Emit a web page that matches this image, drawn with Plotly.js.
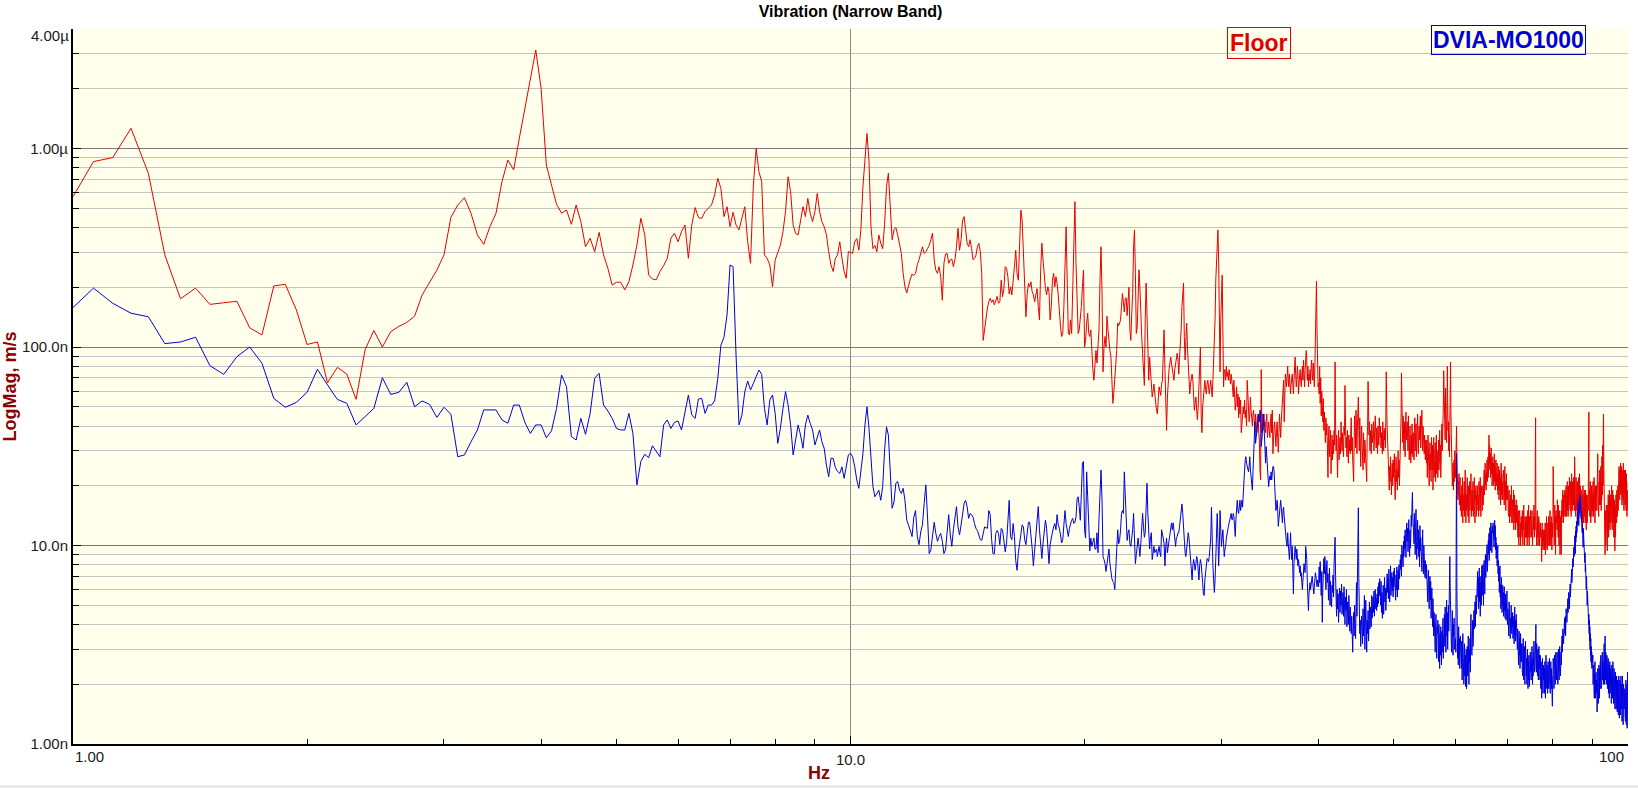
<!DOCTYPE html>
<html><head><meta charset="utf-8">
<script src="https://cdn.plot.ly/plotly-3.0.1.min.js"></script>
<style>html,body{margin:0;padding:0;background:#fff}#chart{width:1638px;height:788px}</style>
</head><body><div id="chart"></div>
<script>
// Narrow-band spectrum: 1600 lines over 100 Hz -> 0.0625 Hz resolution, shown 1..100 Hz
const freqStartHz = 1;
const freqStepHz = 0.0625;

// Floor vibration, nm/s (one row = 1 Hz = 16 lines)
const floorNm = [
572,859,900,1264,750,291,175,198,164,167,170,125,115,203,207,154,
103,106,66,79,73,54.5,97,121,100,119.5,127,133,143,183,213,244,
291,450,519,565,472,367,329,404,472,681,875,780,1125,1594,2213,3133,
2010,826,655,523,472,490,415,519,428,320,353,302,378,291,249,205,
212,212,194,213,259,326,445,367,231,220,218,240,257,280,353,374,
339,381,412,280,412,504,448,445,481,500,519,583,707,630,454,509,
404,477,412,389,445,509,339,264,655,1000,764,681,291,280,259,201,
274,302,326,381,481,721,606,412,374,367,445,509,454,561,472,428,
481,594,481,428,404,367,302,259,240,280,291,339,280,240,222,302,
300,296,340,352,307,390,643,870,1190,870,403,313,325,302,367,333,
313,414,643,750,470,347,390,400,367,333,296,235,201,187,205,220,
233,229,235,260,275,302,320,296,302,313,325,347,375,275,244,235,
254,226,172,264,294,296,264,275,277,254,275,320,396,307,347,436,
454,390,333,320,347,313,275,279,290,320,333,302,235,108,122,142,
157,169,176,168,173,163,173,180,166,169,217,179,197,254,249,226,
185,201,183,209,254,307,235,217,360,490,436,296,235,142,185,209,
201,213,190,183,169,187,197,160,137,244,333,275,217,197,183,201,
190,137,160,217,235,201,226,209,183,148,127,113,117,160,275,403,
212,117,115,137,117,201,436,540,264,160,117,122,137,160,201,244,
100,108,132,148,117,113,122,89,77,68,86,96,83,100,122,218,
320,186,75,100,113,100,143,122,104,96,89,68,52,59,70,86,
96,132,128,132,137,160,186,168,150,175,177,144,163,200,122,108,
148,186,320,389,235,117,125,160,245,200,137,113,93,68,64,137,
210,148,80,68,89,77,68,56,60,65,58,50,48,46,56,63,
60,57,65,68,92,122,77,50,38,56,68,77,83,89,83,77,
71,68,77,83,85,93,86,73,89,100,122,160,200,210,113,86,
108,132,100,86,68,58,65,68,73,68,54,48,52,56,48,43,
50,63,80,100,46,37,50,58,63,68,61,58,65,68,63,58,
63,68,61,56,68,86,100,137,218,264,345,389,275,122,75,137,
193,230,122,63,75,77,68,80,71,75,68,77,71,65,73,63,
63,56,68,58,48,53,63,50,58,44,56,46,54,37,42,48,
50,46,54,44,48,40,68,58,50,42,46,56,48,42,40,46,
48,42,37,46,40,37,44,46,37,34,24,21.4,77,37,46,38,
46,40,42,37,42,46,35,40,42,38,35,42,46,37,48,29,
37,40,42,35,31.5,37,42,35,29.5,37,46,40,35,42,50,54,
63,68,42,56,73,68,63,71,80,68,63,73,68,58,65,71,
73,65,58,68,80,89,73,63,68,80,73,58,65,71,77,68,
63,73,80,68,86,73,63,77,93,96,86,68,80,63,73,68,
77,65,80,86,73,68,83,68,63,80,100,148,214,122,75,63,
66,58,80,52,70,45,60,48,42,55,38,47,40,33,44,36,
41,30,22,35,40,28,33,38,23,30,36,27,34,29,38,32,
84,40,30,36,25,22,33,38,27,31,35,29,42,34,30,37,
33,28,40,36,64,42,31,35,28,38,33,26,36,30,34,29,
38,44,30,35,27,24,21,33,45,38,31,48,36,29,40,52,
56,38,30,44,27,25,35,40,32,28,24,37,30,26,34,28,
31,26,21,35,40,67,45,36,42,30,34,38,29,41,35,33,
36,42,30,38,33,45,37,31,39,34,29,40,36,32,44,38,
35,40,31,37,33,29,42,36,30,38,34,39,31,44,75,52,
40,33,27,30,22,19,25,21,28,24,18,23,26,20,27,22,
25,29,20,17,23,28,21,24,19,26,30,22,27,20,24,31,
36,44,74,52,40,33,45,38,30,42,36,28,40,47,34,38,
42,35,30,45,38,27,33,40,31,26,36,29,41,34,28,37,
32,27,38,44,30,35,41,28,33,38,46,32,29,36,40,34,
38,45,31,36,42,48,35,30,40,37,33,29,36,31,27,34,
30,26,34,22,28,36,25,31,20,27,33,24,29,21,35,28,
24,32,19,27,35,22,29,25,33,21,28,36,23,30,26,22,
27,34,24,30,38,26,32,22,29,36,41,30,35,44,50,76,
52,38,46,34,62,40,48,33,44,80,55,38,42,30,36,28,
40,58,84,46,33,28,24,20,22,26,19,23,27,21,30,25,
22,26,35,40,28,20,24,17,21,18,23,16,19,22,15,18,
17,14,20,16,22,13,18,15,19,21,14,17,24,16,13,18,
15,19,22,16,14,20,17,13,18,21,15,19,16,23,14,18,
19,15,17,21,14,18,16,22,15,13,19,17,20,14,18,16,
17,20,15,18,14,21,16,19,15,22,17,14,20,16,18,15,
18,20,16,22,19,24,18,21,26,20,23,19,25,22,27,21,
24,28,22,30,36,26,32,24,29,22,27,31,23,26,20,25,
28,22,26,20,24,29,21,25,19,23,27,20,24,22,26,19,
23,18,21,25,17,20,24,19,22,16,21,26,18,23,17,20,
21,17,24,19,22,16,20,25,18,21,15,19,23,17,20,18,
17,20,15,18,14,19,16,13,17,15,18,14,16,20,13,15,
14,17,13,16,19,12,15,18,14,13,16,12,15,17,13,14,
16,12,14,11,15,13,10,14,12,15,11,13,10,12,14,11,
13,11,15,12,10,14,12,16,11,13,10,12,14,11,13,12,
14,11,13,10,12,15,11,13,16,12,10,14,12,11,13,15,
12,14,11,13,15,12,10,13,11,14,12,16,13,11,14,12,
30,44,14,11,13,10,12,15,11,13,10,12,14,11,13,10,
12,10,13,11,9,12,10,8.3,11,13,10,12,9.5,11,10,12,
11,9.5,12,10,13,9,11,10,12,14,10,11,9.5,12,13,10,
12,14,11,13,10,12,15,11,13,10,12,14,11,9.5,12,13,
11,14,25,18,12,15,10,13,16,11,14,9,12,15,11,13,
14,12,17,13,15,11,16,13,10,14,12,15,9,13,11,14,
12,9,15,13,17,14,16,19,15,13,18,16,14,17,15,19,
16,14,18,15,20,17,14,19,16,21,15,18,14,17,20,16,
18,22,16,19,15,21,17,20,14,18,23,16,19,15,21,17,
19,16,22,17,20,15,28,18,21,16,19,14,22,17,20,15,
18,21,16,20,14,17,22,15,19,16,23,18,14,20,17,15,
16,19,13,17,15,18,12,16,20,14,17,13,18,15,19,14,
15,17,13,19,14,16,12,18,15,17,13,16,14,18,15,20,
30,47,18,15,19,14,17,21,16,13,18,15,20,16,14,17,
15,19,16,21,14,18,17,22,15,19,16,13,18,20,15,17,
19,16,20,15,18,22,17,29,21,16,19,14,18,21,16,24,
20,17,22,16,25,19,15,21,17,28,23,18,32,26,20,38,
46,30,22,17,14,11,16,9,13,15,10,14,12,16,13,11,
14,9.4,13,16,12,18,15,11,17,14,19,13,16,12,15,18,
16,13,18,15,20,14,17,12,16,19,13,15,18,14,11,16,
14,17,12,9.4,13,16,11,15,18,14,17,13,19,16,14,18,
17,20,15,19,22,16,25,18,21,17,24,19,22,26,18,21,
20,25,18,22,16,24,19,23,17,21,26,18,22,15,20,24,
19,22,16,21,24,17,20,15,23,18,21,14,19,16,17,15,
15
];

// DVIA-MO1000 vibration, nm/s (one row = 1 Hz = 16 lines)
const dviaNm = [
158,198,166,148,142,104,106,112,80.5,72.8,89.4,100,82.8,55.1,49.7,52.6,
59.1,77.2,64.4,54.5,52,40.5,44.6,49.1,70,57.7,59.1,66.4,50,53.5,51.4,44.2,
49.7,45.8,28.0,28.6,33.3,38.2,48.2,48.2,48.2,42.9,41.3,51.0,51.0,41.7,36.7,40.5,
40.5,34.9,37.8,49.1,72.3,63.1,35.4,34.0,43.7,36.3,46.3,69.6,73.7,51.0,47.6,43.7,
38.9,38.2,38.2,46.3,36.7,20.2,26.5,28.8,27.7,31.8,29.7,28.0,40.5,42.9,38.9,41.7,
42.4,38.2,46.9,57.3,45.4,43.7,54.7,55.1,46.3,51.0,51.0,53.5,69.6,102,112,145,
259,254,91.2,40.5,45.4,59.6,67.4,60.7,65.6,70.9,76.6,72.8,49.1,40.5,54.1,57.3,
46.3,32.7,38.9,49.1,59.6,51.0,40.5,28.6,33.3,40.5,36.0,30.9,40.5,45.4,41.3,38.2,
32.1,35.4,38.2,33.3,30.9,25.4,22.2,27.5,27.5,24.7,23.6,23.1,24.9,21.8,24.5,28.6,
29.1,28,25,21.4,19.4,23,29,40.5,50,39,26,19.8,17.6,18.3,19,16.9,
19.8,30.3,39.6,36,23,15.4,16.6,20.6,21,19,18.3,19.4,16.9,13.4,12.7,12,
11.1,13.9,15,11.1,10.1,11.7,12.7,16.3,20.2,13.9,9.1,9.5,11.1,13.1,11.5,10.5,
11.1,11.5,10.5,9.1,9.5,11.5,14.3,11.3,9.9,12,13.9,15.7,12.4,11.3,12.7,14.3,
16.3,16.9,15.7,13.7,14.5,14.3,13.9,12.9,12.2,11.9,11.2,10.7,10.6,11.5,12.4,12.3,
12.2,15,14.3,10.7,9.1,9.1,11.5,11.9,11.5,10.1,12.2,12,10.5,9.3,10.3,13.4,
16.9,11.1,10.7,12.9,11.1,8.4,7.5,9.1,10.3,11.7,12.7,12.4,10.7,10.1,12,13.1,
13.1,11.5,9.7,7.9,9.5,11.5,13.4,15.7,12,9.5,8.6,10.3,12.2,13.4,12.2,9.5,
8.1,10.1,11.1,11.7,12.4,12.9,12,14.3,12.7,12.2,11.3,10.3,10.7,13.4,15,12.9,
11.7,11.1,12.2,12.9,13.4,13.7,12.9,13.1,13.9,17.2,17.6,15.7,13.4,18.3,26,26.5,
12,10.9,23.5,17.6,11.1,9.4,10.9,9.9,10.4,10.9,9.6,9.6,11.6,9.2,13.7,21.4,
24,17,8.8,8.5,8.1,7.4,8.1,9,9.6,8.1,7.3,6.8,6.6,6.5,6,7.8,
9.9,12,10.2,10.6,12,14.5,15,14.5,23.5,16.9,12.5,10.6,11.6,12,10.2,9.9,
10.9,12,14.5,11.6,8.1,9,10.2,10.9,9.9,8.8,10.2,12,14.5,12.5,11,11.6,
17.6,20.6,14.5,10.9,9.6,10.9,11.6,8.5,9.6,9.9,9.2,9.4,9.6,8.8,9.2,9.9,
9.2,8.8,12,11.6,10.9,10.2,7.9,9.9,10.9,9.2,9.9,11.1,11.6,12.5,13,12,
13,12,10.9,9.9,10.9,11.1,11.6,11.6,12.5,13.5,15,16.2,14.5,11.6,9.9,9.2,
8.8,9.6,9.9,11.6,10.9,9.6,8.8,7.5,6.7,7.9,8.5,8.1,7.5,8.1,8.8,8.5,
7.2,6.7,7.9,8.5,8.1,6.7,6.5,5.7,5.6,6.7,7.5,8.1,8.6,8.5,8.3,8.8,
9.6,10.9,15.6,9.9,7.9,6.7,5.8,6.7,9.2,12,14.5,10.9,7.9,9.9,15,12,
9.9,10.9,12,10.2,8.8,9.6,9.9,10.9,11.6,12,12.5,13,13.5,14,14.5,13.5,
13.5,14.5,14,12.5,11.1,13.5,15.6,16.9,15,14.5,15.6,16.9,15,15.6,16.9,15.6,
19,21.4,24,27,28,26,25,24,23.5,25,28,24,21.4,19.8,19,23.5,
31.5,36.7,42,32.7,35.3,39.5,42,43.8,46,42,48,46,31.5,34,38,44,
46,37,28,26,31.5,27,25,23.5,19.8,21.4,22.4,21.4,23.5,21.4,24,25,
25,23.5,19.8,16.9,15,15.6,16.9,15,12.5,13.5,14.5,15,16.9,15.6,14,13,
15,15.6,14,12.5,12,11.1,10.2,9.9,11.6,10.2,9.2,8.5,9.9,11.6,9.6,8.5,
9.9,7.9,5.7,8.1,9.2,9.9,9.2,8.5,9.6,8.8,7.9,8.5,7.7,7.3,7.9,7.0,
7.3,6.5,6,6.7,7.9,8.1,7.5,7.3,9.9,9.2,8.5,6.5,5.5,4.7,5.7,6.2,
6.5,6,6.2,6.7,7,6.5,6,5.7,6.2,6.7,7.3,7,6.5,6.2,6.7,6.2,
6.2,7.8,6.5,8.3,7.0,5.6,7.4,4.1,6.1,7.9,8.6,7.2,8.8,7.6,6.0,7.5,
8.4,6.5,7.2,5.3,6.0,7.7,5.0,6.6,5.4,4.9,6.3,5.8,7.1,5.5,8.0,10.8,
11,7.0,5.2,4.4,6.0,4.8,5.7,4.1,5.3,6.1,4.6,5.9,5.0,6.4,4.5,5.6,
5.8,4.4,6.2,5.1,4.0,5.5,4.7,6.0,3.9,5.2,4.5,4.0,5.6,4.3,3.7,4.9,
4.2,3.6,4.4,3.3,2.9,3.8,4.6,3.5,5.0,4.1,3.4,5.3,6.5,4.4,8.8,15,
15.5,6.8,4.6,3.6,4.2,3.1,3.9,4.4,3.7,3.2,4.8,3.5,4.1,5.6,3.0,4.0,
5.3,3.4,2.9,4.2,3.6,4.7,3.3,4.0,5.2,3.8,4.5,4.9,3.9,5.6,4.3,4.8,
5.5,4.6,5.9,4.4,5.2,6.0,4.8,5.4,4.7,5.7,4.9,6.2,5.1,6.5,5.6,6.8,
6.0,5.0,6.6,4.6,5.8,4.3,5.3,6.3,4.5,5.5,6.9,5.2,6.1,4.7,5.4,6.6,
7.2,5.8,6.8,5.4,7.6,6.1,5.2,6.7,7.9,5.6,6.4,7.3,5.9,6.9,5.5,7.4,
6.2,7.7,5.7,6.8,5.3,7.1,6.0,7.8,5.5,6.5,7.5,6.0,8.0,6.8,7.3,8.5,
7.6,9.0,7.0,10.0,8.2,9.5,7.8,10.5,8.8,11.2,9.6,12,10.2,8.7,11.5,13,
10.5,12.2,9.3,11.0,13.5,10.0,8.8,12.0,9.7,11.3,14.2,12.5,16.0,18.5,14.0,11.5,
12.8,10.2,14.5,11.0,9.0,12.3,15.2,10.5,8.5,11.8,13.4,9.6,12.0,8.8,10.8,7.8,
12.6,9.4,11.0,8.3,10.3,7.4,9.8,12.0,8.6,7.2,10.0,8.0,9.1,6.9,8.4,7.6,
6.8,8.0,6.0,7.2,5.2,6.4,7.5,5.6,4.8,6.3,7.0,5.3,6.6,4.3,5.8,6.1,
4.8,3.9,5.4,4.4,3.5,4.6,3.2,4.1,2.9,3.8,4.5,3.3,2.7,3.9,3.6,4.2,
3.4,2.6,4.0,3.0,2.4,3.6,2.8,3.9,3.1,2.5,3.7,2.9,3.3,4.3,2.7,3.5,
3.6,4.5,3.1,4.9,3.8,2.9,4.2,5.3,3.5,4.6,3.0,4.0,5.0,3.7,4.4,6.0,
8.8,6.2,3.6,4.4,3.2,2.9,3.8,4.7,3.3,2.8,4.0,3.5,4.3,3.0,3.7,3.1,
3.4,2.9,12,29,6.0,3.6,2.7,3.2,2.5,3.9,2.8,3.4,2.4,3.0,3.5,2.6,
2.9,2.4,3.3,2.1,2.7,3.6,2.3,2.9,2.0,2.6,3.2,2.2,2.8,1.95,2.5,3.0,
1.9,2.5,3.1,2.2,2.8,3.5,2.4,2.0,3.0,2.6,3.4,2.3,3.8,4.5,2.9,3.5,
2.8,3.6,4.2,3.1,4.0,3.4,4.7,3.8,4.4,5.2,3.9,4.9,5.6,4.5,6.0,5.3,
6.6,7.4,5.5,6.9,4.8,6.2,7.7,5.2,6.5,4.4,5.8,7.0,5.0,6.3,7.9,5.6,
7.2,8.0,6.2,5.0,7.5,8.4,6.6,5.7,8.1,9.0,6.9,7.8,9.3,8.0,10.1,7.4,
9.8,8.0,10.6,9.0,11.5,8.4,10.2,12.3,9.4,11.0,13.0,10.0,11.8,9.2,12.5,10.8,
11.6,13.0,10.4,12.2,9.8,11.3,13.4,10.7,12.6,9.5,11.0,8.6,10.3,9.2,7.9,8.8,
10.0,7.2,8.4,6.6,7.7,5.8,6.8,7.9,5.5,6.4,4.8,5.9,6.9,5.2,4.6,5.6,
6.3,5.0,5.8,4.4,5.4,6.2,4.7,5.1,4.3,5.7,4.9,4.2,5.3,4.6,5.9,4.4,
4.0,4.8,3.7,4.5,3.5,5.2,4.1,3.8,4.6,3.4,4.3,3.9,5.0,4.2,3.6,4.4,
3.9,4.6,3.4,4.1,3.7,4.4,3.2,3.9,4.9,3.5,4.2,3.3,3.8,4.5,3.6,4.0,
3.5,3.0,3.8,2.7,3.3,2.5,3.1,3.7,2.8,3.4,2.4,3.0,3.6,2.6,3.2,2.9,
2.6,3.2,2.3,2.9,2.2,3.4,2.7,2.1,2.8,3.1,2.4,2.0,2.7,3.3,2.5,2.9,
2.2,2.7,2.0,2.5,3.0,2.3,1.9,2.6,2.1,2.8,2.4,1.95,2.6,2.2,2.9,2.3,
2.5,2.1,2.8,2.3,3.1,2.4,2.0,2.7,2.2,2.9,2.5,3.3,2.6,2.3,3.0,2.4,
2.8,3.5,4.0,2.7,2.3,3.2,2.5,2.9,2.2,3.0,2.6,2.1,2.7,3.1,2.4,2.8,
2.5,2.1,2.8,2.3,1.9,2.6,2.2,1.7,2.4,2.0,2.7,2.2,1.8,2.5,2.1,2.3,
2.0,2.4,1.8,2.6,2.1,1.7,2.3,2.8,2.0,2.4,1.9,2.5,2.2,1.8,2.3,2.6,
2.2,1.9,2.5,2.1,2.7,2.0,2.4,1.8,2.3,2.6,2.0,2.4,1.9,2.2,1.7,1.55,
1.9,2.3,2.7,2.1,2.5,1.9,2.4,2.8,2.2,2.6,2.0,2.4,2.9,2.3,2.1,2.6,
2.4,2.9,2.2,2.7,2.0,2.5,3.0,2.3,2.7,2.1,2.6,3.1,2.4,2.8,2.2,2.7,
2.9,2.5,3.2,2.7,3.5,2.9,3.3,3.8,3.0,3.6,3.2,4.0,3.4,3.9,4.3,3.6,
3.8,4.4,3.5,4.2,4.8,3.9,4.5,4.1,5.0,4.4,4.8,5.4,4.6,5.2,5.8,5.0,
5.4,4.8,5.9,5.2,6.4,5.5,6.0,7.0,6.2,6.8,7.6,6.5,7.2,8.2,7.4,8.6,
7.8,9.0,8.2,9.8,8.8,10.5,9.4,11.2,10.0,9.1,11.8,10.4,12.5,11.0,13.2,11.6,
12.0,14.0,12.8,15.0,13.4,16.2,14.2,12.6,15.4,17.0,14.6,16.5,15.8,18.0,16.0,14.5,
15.5,13.6,14.8,12.5,13.8,11.6,12.8,10.5,11.8,9.8,12.2,10.2,9.0,11.0,9.5,8.6,
8.2,9.2,7.4,8.0,6.6,7.6,6.0,7.0,5.4,6.4,5.0,5.9,4.6,5.5,4.8,4.3,
4.0,4.5,3.6,4.2,3.3,3.9,3.0,3.6,2.8,3.4,2.6,3.1,2.5,2.9,2.4,2.8,
2.6,2.2,2.8,2.0,2.5,1.8,2.4,2.1,1.7,2.3,1.9,2.6,2.0,1.7,2.2,1.9,
2.3,1.8,2.1,1.6,1.45,2.0,1.7,2.4,1.9,1.6,2.2,1.8,2.5,2.0,1.7,2.1,
2.4,1.9,2.6,2.1,2.8,2.2,1.9,2.5,2.0,2.7,2.3,2.9,2.1,2.6,2.2,2.5,
2.0,2.7,2.3,3.2,2.4,2.0,2.8,3.5,2.5,2.1,2.9,2.3,2.6,2.0,2.4,2.8,
2.2,2.6,1.9,2.4,2.0,2.7,1.8,2.3,2.0,2.5,1.7,2.2,2.6,1.9,2.3,2.0,
2.4,1.8,2.2,1.6,2.1,2.5,1.9,2.3,1.7,2.2,2.6,1.9,2.1,1.6,2.0,2.4,
1.9,2.2,1.6,2.0,1.5,1.8,2.3,1.7,2.1,1.5,1.9,2.2,1.6,2.0,1.45,1.8,
2.1,1.6,2.0,1.4,1.8,2.2,1.5,1.9,1.35,1.7,2.1,1.6,1.9,1.4,1.8,2.2,
1.7,2.0,1.5,1.9,1.3,1.7,2.2,1.5,1.8,1.25,1.6,2.0,1.4,1.8,1.5,1.9,
1.6,1.9,1.4,1.8,1.3,1.7,2.1,1.5,1.25,1.8,1.4,2.0,1.2,1.6,2.3,2.0,
2.2
];

const seriesNames = ['Floor', 'DVIA-MO1000'];
const seriesColors = ['rgb(232,0,0)', 'rgb(0,0,225)'];

const xTickVals = [10];
const xTickText = ['10.0'];
const xMinorVals = [2,3,4,5,6,7,8,9,20,30,40,50,60,70,80,90];
const yTickVals = [1, 10, 100, 1000];
const yTickText = ['1.00n', '10.0n', '100.0n', '1.00\u00b5'];
const yMinorVals = [2,3,4,5,6,7,8,9,20,30,40,50,60,70,80,90,200,300,400,500,600,700,800,900,2000,3000];
const yTopNm = 4000;

const FONT = 'Liberation Sans, Arial, sans-serif';
const AXIS_RED = '#8B0000';
const TICK_FONT = {family:FONT, size:15, color:'#1a1a1a'};

const traces = [
  {type:'scatter', mode:'lines', name:seriesNames[0], y:floorNm, x0:freqStartHz, dx:freqStepHz,
   line:{color:seriesColors[0], width:1}, hoverinfo:'skip'},
  {type:'scatter', mode:'lines', name:seriesNames[1], y:dviaNm, x0:freqStartHz, dx:freqStepHz,
   line:{color:seriesColors[1], width:1}, hoverinfo:'skip'}
];

const layout = {
  width:1638, height:788,
  margin:{l:73, r:10, t:29, b:44, pad:0},
  paper_bgcolor:'#ffffff', plot_bgcolor:'#FFFFEB',
  showlegend:false,
  font:{family:FONT, size:15, color:'#1a1a1a'},
  title:{text:'<b>Vibration (Narrow Band)</b>', font:{family:FONT, size:16, color:'#000'},
         xref:'paper', x:0.5, xanchor:'center', yref:'container', y:0.986, yanchor:'middle'},
  xaxis:{type:'log', range:[0, 2], tickmode:'array', tickvals:xTickVals, ticktext:xTickText,
         ticks:'inside', ticklen:8, tickwidth:1, tickcolor:'#000',
         showgrid:true, gridcolor:'#8a8a8a', gridwidth:1,
         showline:true, linecolor:'#000', linewidth:2, mirror:false, zeroline:false,
         minor:{tickmode:'array', tickvals:xMinorVals, ticks:'inside', ticklen:5, tickwidth:1, tickcolor:'#000', showgrid:false},
         tickfont:TICK_FONT, ticklabelstandoff:1,
         fixedrange:true},
  yaxis:{type:'log', range:[0, Math.log10(yTopNm)], tickmode:'array', tickvals:yTickVals, ticktext:yTickText,
         ticks:'inside', ticklen:8, tickwidth:1, tickcolor:'#000',
         showgrid:true, gridcolor:'#7a7a7a', gridwidth:1,
         showline:true, linecolor:'#000', linewidth:2, mirror:false, zeroline:false,
         minor:{tickmode:'array', tickvals:yMinorVals, ticks:'inside', ticklen:6, tickwidth:1, tickcolor:'#000',
                showgrid:true, gridcolor:'#c4c4c4', gridwidth:1},
         tickfont:TICK_FONT,
         title:{text:'<b>LogMag, m/s</b>', font:{family:FONT, size:18, color:AXIS_RED}, standoff:4},
         fixedrange:true},
  shapes:[
    // thin light window border along the bottom of the image
    {type:'line', xref:'paper', yref:'paper', x0:-73/1555, x1:1565/1555, y0:-42.5/715, y1:-42.5/715,
     line:{color:'#e3e3e3', width:2}}
  ],
  annotations:[
    {text:'4.00\u00b5', xref:'paper', yref:'paper', x:0, y:1, xanchor:'right', yanchor:'middle',
     xshift:-2, yshift:-6, showarrow:false, font:TICK_FONT},
    {text:'1.00', xref:'paper', yref:'paper', x:0, y:0, xanchor:'left', yanchor:'top',
     yshift:-2, showarrow:false, font:TICK_FONT},
    {text:'100', xref:'paper', yref:'paper', x:1, y:0, xanchor:'right', yanchor:'top',
     xshift:-2, yshift:-2, showarrow:false, font:TICK_FONT},
    // x-axis title, centred on the page as in the original
    {text:'<b>Hz</b>', xref:'paper', yref:'paper', x:(819 - 73) / 1555, y:0, xanchor:'center', yanchor:'middle',
     yshift:-29, showarrow:false, font:{family:FONT, size:18, color:AXIS_RED}},
    {text:'<b>' + seriesNames[0] + '</b>', xref:'paper', yref:'paper', x:0.763, y:0.980,
     xanchor:'center', yanchor:'middle', showarrow:false,
     font:{family:FONT, size:23, color:'rgb(225,0,0)'},
     bordercolor:'rgb(225,0,0)', borderwidth:1, borderpad:2, bgcolor:'rgba(255,255,255,0)'},
    {text:'<b>' + seriesNames[1] + '</b>', xref:'paper', yref:'paper', x:0.923, y:0.984,
     xanchor:'center', yanchor:'middle', showarrow:false,
     font:{family:FONT, size:23, color:'rgb(0,0,210)'},
     bordercolor:'rgb(0,0,190)', borderwidth:1, borderpad:1, bgcolor:'rgba(255,255,255,0)'}
  ]
};

Plotly.newPlot('chart', traces, layout, {staticPlot:true, displayModeBar:false, responsive:false});
</script>
</body></html>
